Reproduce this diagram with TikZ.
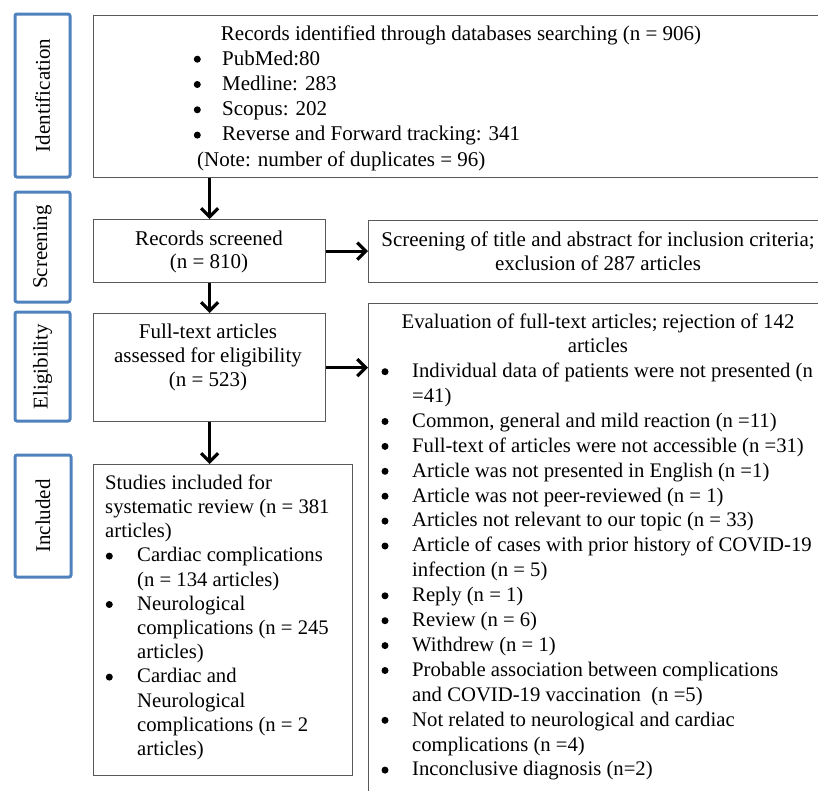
\documentclass[tikz,border=0pt]{standalone}
\usepackage{fontspec}
\setmainfont{Liberation Serif}
\usetikzlibrary{arrows.meta}
\definecolor{lblue}{HTML}{4F81BD}
\definecolor{boxgray}{HTML}{595959}
\newcommand{\bul}[1]{\hspace*{#1}}
\begin{document}
\begin{tikzpicture}[x=1pt,y=-1pt,
  every node/.style={inner sep=0pt, font=\fontsize{21}{25}\selectfont},
  box/.style={draw=boxgray, line width=1.3pt, rectangle, anchor=north west},
  lbl/.style={draw=lblue, line width=3pt, rounded corners=2pt, rectangle, rotate=90},
  arr/.style={line width=3.2pt, -{Straight Barb[length=8.5pt,width=17pt]}},
  dot/.style={fill=black}]
\useasboundingbox (0,0) rectangle (818,790);
\clip (0,0) rectangle (818,790);

% stage labels
\node[lbl, minimum width=163pt, minimum height=55pt] (lid) at (42.5,95.5) {Identification};
\node[lbl, minimum width=110pt, minimum height=55pt] (lsc) at (42.5,247) {Screening};
\node[lbl, minimum width=109pt, minimum height=55pt] (lel) at (42.5,366.5) {Eligibility};
\node[lbl, minimum width=122pt, minimum height=56pt] (lin) at (43,516) {Included};

% boxes
\node[box, minimum width=736pt, minimum height=162pt] (idb) at (93,15) {};
\node[box, minimum width=232pt, minimum height=63pt] (scr) at (93,219) {};
\node[box, minimum width=461pt, minimum height=62pt] (ttl) at (368,220) {};
\node[box, minimum width=232pt, minimum height=108pt] (ft) at (93,313) {};
\node[box, minimum width=461pt, minimum height=500pt] (ev) at (368,303) {};
\node[box, minimum width=259pt, minimum height=311pt] (st) at (93,464) {};

% texts
\node[anchor=base] (idt) at (461,40) {Records identified through databases searching (n = 906)};
\node[anchor=base west] (idl) at (193,65) {\parbox[t]{420pt}{\fontsize{21}{25.3}\selectfont
\bul{29pt}PubMed:80\\
\bul{29pt}Medline: 283\\
\bul{29pt}Scopus: 202\\
\bul{29pt}Reverse and Forward tracking: 341\\
\hspace*{4pt}(Note: number of duplicates = 96)}};
\foreach \k in {0,1,2,3} \fill[dot] (197.3,{65+\k*25.3-5.8}) circle (3.5pt);

\node[anchor=base] (scrt) at (209,245) {\parbox[t]{228pt}{\centering\fontsize{21}{23.8}\selectfont
Records screened\\(n = 810)}};

\node[anchor=base] (ttlt) at (598,246.7) {\parbox[t]{455pt}{\centering\fontsize{21}{23.5}\selectfont
Screening of title and abstract for inclusion criteria;\\exclusion of 287 articles}};

\node[anchor=base] (ftt) at (208,338) {\parbox[t]{228pt}{\centering\fontsize{21}{24.3}\selectfont
Full-text articles\\assessed for eligibility\\(n = 523)}};

\node[anchor=base] (evt) at (598,328) {\parbox[t]{455pt}{\centering\fontsize{20.8}{24}\selectfont
Evaluation of full-text articles; rejection of 142\\articles}};

\node[anchor=base west] (evl) at (381,377.5) {\parbox[t]{440pt}{\fontsize{20.7}{24.9}\selectfont
\bul{31pt}Individual data of patients were not presented (n\\
\hspace*{31pt}=41)\\
\bul{31pt}Common, general and mild reaction (n =11)\\
\bul{31pt}Full-text of articles were not accessible (n =31)\\
\bul{31pt}Article was not presented in English (n =1)\\
\bul{31pt}Article was not peer-reviewed (n = 1)\\
\bul{31pt}Articles not relevant to our topic (n = 33)\\
\bul{31pt}Article of cases with prior history of COVID-19\\
\hspace*{31pt}infection (n = 5)\\
\bul{31pt}Reply (n = 1)\\
\bul{31pt}Review (n = 6)\\
\bul{31pt}Withdrew (n = 1)\\
\bul{31pt}Probable association between complications\\
\hspace*{31pt}and COVID-19 vaccination\ \ (n =5)\\
\bul{31pt}Not related to neurological and cardiac\\
\hspace*{31pt}complications (n =4)\\
\bul{31pt}Inconclusive diagnosis (n=2)}};
\foreach \k in {0,2,3,4,5,6,7,9,10,11,12,14,16} \fill[dot] (385,{377.5+\k*24.9-5.8}) circle (3.5pt);

\node[anchor=base west] (stl) at (105,489.3) {\parbox[t]{245pt}{\fontsize{20.7}{24.2}\selectfont
Studies included for\\
systematic review (n = 381\\
articles)\\
\bul{32pt}Cardiac complications\\
\hspace*{32pt}(n = 134 articles)\\
\bul{32pt}Neurological\\
\hspace*{32pt}complications (n = 245\\
\hspace*{32pt}articles)\\
\bul{32pt}Cardiac and\\
\hspace*{32pt}Neurological\\
\hspace*{32pt}complications (n = 2\\
\hspace*{32pt}articles)}};
\foreach \k in {3,5,8} \fill[dot] (109.3,{489.3+\k*24.2-5.8}) circle (3.5pt);

% arrows
\draw[arr] (scr.north |- idb.south) -- (scr.north);
\draw[arr] (scr.south) -- (ft.north);
\draw[arr] (ft.south) -- (ft.south |- st.north);
\draw[arr] (scr.east) -- (scr.east -| ttl.west);
\draw[arr] (ft.east) -- (ft.east -| ev.west);
\end{tikzpicture}
\end{document}
